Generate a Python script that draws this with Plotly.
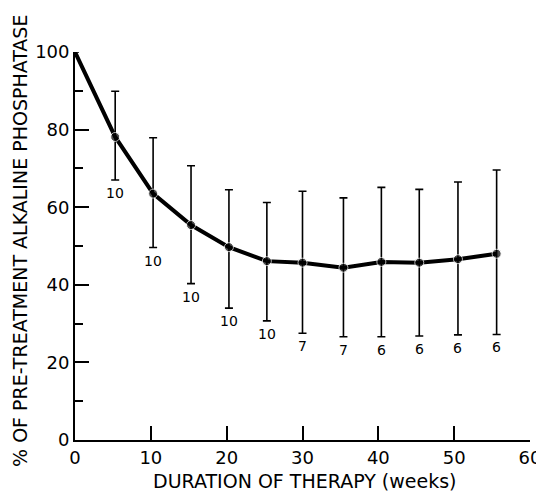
import plotly.graph_objects as go

weeks = [0, 5.3, 10.3, 15.3, 20.3, 25.3, 30.0, 35.4, 40.4, 45.4, 50.5, 55.6]
mean_pct = [100, 78.1, 63.5, 55.4, 49.7, 46.1, 45.7, 44.4, 45.9, 45.7, 46.6, 48.0]
upper = [100, 89.9, 77.9, 70.7, 64.5, 61.2, 64.1, 62.4, 65.1, 64.6, 66.5, 69.6]
lower = [100, 67.0, 49.6, 40.3, 34.0, 30.7, 27.5, 26.6, 26.6, 26.8, 27.1, 27.2]
n_patients = ["", "10", "10", "10", "10", "10", "7", "7", "6", "6", "6", "6"]

err_plus = [u - m for u, m in zip(upper, mean_pct)]
err_minus = [m - l for m, l in zip(mean_pct, lower)]
msize = [0] + [9] * (len(weeks) - 1)

FONT = "DejaVu Sans"

fig = go.Figure()
fig.add_trace(go.Scatter(
    x=weeks, y=mean_pct, mode="lines+markers",
    line=dict(color="black", width=4),
    marker=dict(color="black", size=msize),
    error_y=dict(type="data", array=err_plus, arrayminus=err_minus,
                 color="black", thickness=1.6, width=4),
    showlegend=False, cliponaxis=False,
))

annotations = []
for xv, yv, t in zip(weeks, lower, n_patients):
    if t:
        annotations.append(dict(x=xv, y=yv, xref="x", yref="y", text=t,
                                showarrow=False, xanchor="center", yanchor="top",
                                yshift=-3,
                                font=dict(family=FONT, size=14, color="black")))

annotations += [
    dict(text="DURATION OF THERAPY (weeks)", xref="paper", yref="paper",
         x=0.505, y=-0.139, xanchor="center", yanchor="bottom", showarrow=False,
         font=dict(family=FONT, size=19, color="black")),
    dict(text="% OF PRE-TREATMENT ALKALINE PHOSPHATASE", xref="paper", yref="paper",
         x=-0.1473, y=0.513, xanchor="left", yanchor="middle", textangle=-90,
         borderpad=0, showarrow=False, font=dict(family=FONT, size=19, color="black")),
]

fig.update_layout(
    width=536, height=486,
    margin=dict(l=67, r=14, t=44, b=54, autoexpand=False),
    paper_bgcolor="white", plot_bgcolor="white",
    font=dict(family=FONT, color="black"),
    xaxis=dict(range=[0, 60], tickvals=[0, 10, 20, 30, 40, 50, 60],
               ticks="inside", ticklen=14, tickwidth=1.5, tickcolor="black",
               ticklabeloverflow="allow", automargin=False,
               showline=True, linecolor="black", linewidth=1.8,
               showgrid=False, zeroline=False,
               tickfont=dict(family=FONT, size=18, color="black")),
    yaxis=dict(range=[0, 100], tickvals=[0, 20, 40, 60, 80, 100],
               ticks="inside", ticklen=14, tickwidth=1.5, tickcolor="black",
               automargin=False,
               minor=dict(ticks="inside", dtick=10, ticklen=8, tickwidth=1.5, tickcolor="black"),
               showline=True, linecolor="black", linewidth=1.8,
               showgrid=False, zeroline=False,
               tickfont=dict(family=FONT, size=18, color="black")),
    annotations=annotations,
)

fig.write_html("out.html")
